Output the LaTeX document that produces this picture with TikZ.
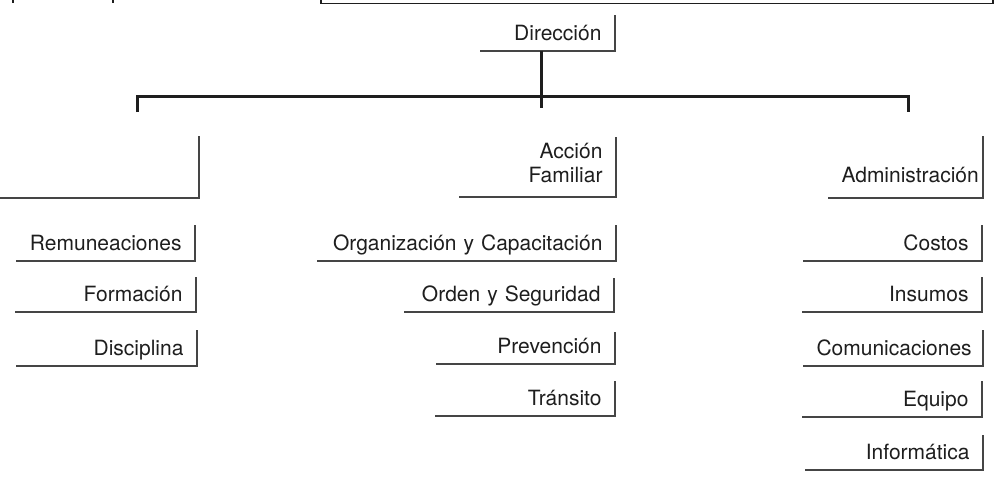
\documentclass[tikz,border=0pt]{standalone}
\usepackage{fontspec}
\setmainfont{TeX Gyre Heros}
\definecolor{ink}{HTML}{1E1E1E}
\definecolor{rule}{HTML}{454545}
% \tabbox[opts]{name}{right x}{top y}{bottom y}{left x}{first baseline y}{text}
% A right-aligned label closed by a rule below it and a rule on its right.
\newcommand\tabbox[8][]{%
  \pgfmathsetmacro\tabw{#3-#6-27}%
  \pgfmathsetmacro\tabh{#7-#4}%
  \pgfmathsetmacro\tabd{#5-#7}%
  \node[tab, text width=\tabw pt, text height=\tabh pt, text depth=\tabd pt, #1] (#2) at (#3,#5) {#8};
  \draw[frame] (#2.south west) -- (#2.south east) -- (#2.north east);
}
\begin{document}
\begin{tikzpicture}[x=1pt,y=-1pt,
  tab/.style={anchor=south east, inner xsep=13.5pt, inner ysep=0pt, outer sep=0pt,
    align=right, text=ink, font=\fontsize{21}{24}\selectfont},
  frame/.style={draw=rule, line width=1.4pt, line join=miter},
  bar/.style={draw=ink, line width=3pt},
]
\useasboundingbox (0,0) rectangle (994,485);
\clip (0,0) rectangle (994,485);

% heading box and lettering running off the top edge
\draw[draw=ink, line width=1.5pt] (321,-20) rectangle (993,3.5);
\draw[ink, line width=2.5pt] (13,-5) -- (13,3);
\draw[ink, line width=2.5pt] (113,-5) -- (113,3);

% top unit
\tabbox{dir}{615}{15}{51}{480}{40}{Dirección}

% second level
\tabbox{blank}{199}{136}{198}{-5}{182}{}
\tabbox{fam}{616}{137}{197}{459}{158}{Acción\\Familiar}
\tabbox{adm}{983}{136}{198}{828}{182}{Administración}

% branching bar
\coordinate (hub) at (541.5,96.5);
\coordinate (tail) at (541.5,108);
\coordinate (tl) at (137,112);
\coordinate (tr) at (908,112);
\draw[bar] (hub |- dir.south) -- (tail);
\draw[bar] (tl) -- (tl |- hub) -- (tr |- hub) -- (tr);

% left column
\tabbox{rem}{195}{225}{261}{16}{250.5}{Remuneaciones}
\tabbox{form}{196}{277}{312}{15}{301.5}{Formación}
\tabbox{disc}{197}{330}{366}{16}{355.5}{Disciplina}

% middle column
\tabbox{org}{616}{225}{261}{317}{250.5}{Organización y Capacitación}
\tabbox{ord}{614}{278}{312}{404}{301.5}{Orden y Seguridad}
\tabbox{prev}{615}{332}{364}{436}{353.5}{Prevención}
\tabbox{tran}{615}{381}{416}{435}{405.5}{Tránsito}

% right column
\tabbox{cost}{982}{225}{261}{803}{250.5}{Costos}
\tabbox{ins}{982}{277}{312}{802}{301.5}{Insumos}
\tabbox{com}{983}{330}{366}{803}{355.5}{Comunicaciones}
\tabbox{equ}{982}{381}{417}{802}{406.5}{Equipo}
\tabbox{inf}{983}{435}{470}{805}{459.5}{Informática}
\end{tikzpicture}
\end{document}
